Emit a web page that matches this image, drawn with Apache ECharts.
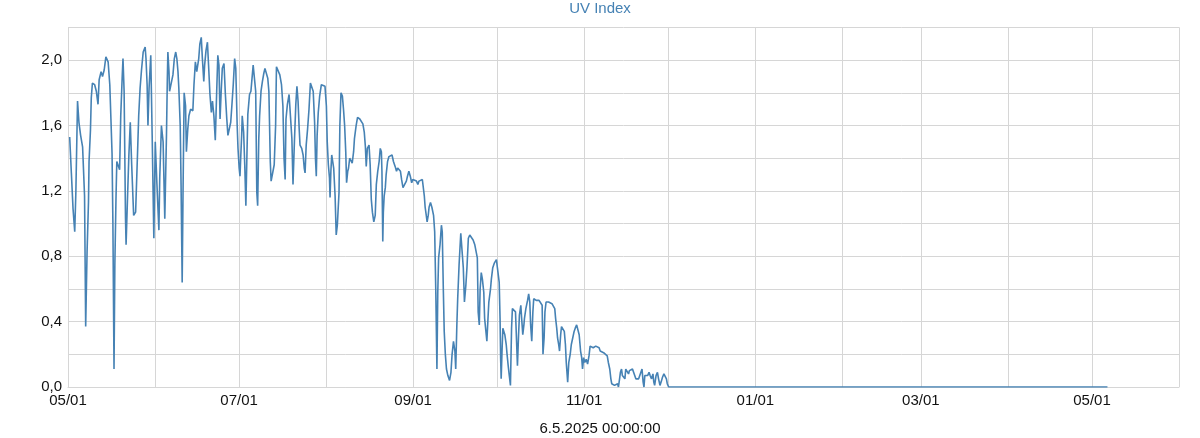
<!DOCTYPE html>
<html>
<head>
<meta charset="utf-8">
<script src="https://cdn.jsdelivr.net/npm/echarts@6/dist/echarts.min.js"></script>
<style>
html,body{margin:0;padding:0;background:#fff;}
#chart{width:1200px;height:438px;}
</style>
</head>
<body>
<div id="chart"></div>
<script>
// Chart title and axis caption
const chartTitle = 'UV Index';
const xCaption = '6.5.2025 00:00:00';
// Start of series (local date) and axis range
const startDate = [2024, 4, 1];
const axisEnd = [2025, 5, 1];
// Day offsets from startDate
const dayOffset = [
0.6,1.2,1.8,2.4,2.8,3.4,3.9,4.5,5.2,5.9,6.3,6.8,7.3,7.5,8.0,8.3,8.7,9.5,10.1,10.7,11.1,11.8,12.3,12.9,13.5,14.3,14.9,15.3,15.7,16.0,16.4,16.7,17.1,17.4,18.4,18.8,19.3,19.6,20.0,20.5,20.7,21.2,21.7,22.2,22.7,23.4,24.1,24.8,25.2,25.7,26.2,26.8,27.5,27.8,28.2,28.5,28.9,29.5,30.0,30.6,31.1,31.7,32.4,32.7,33.3,33.9,34.5,35.1,35.4,
35.6,36.0,36.2,36.8,37.4,37.9,38.4,38.8,39.2,39.5,40.0,40.3,40.7,41.0,41.4,41.9,42.2,42.7,43.1,43.7,44.5,44.9,45.4,45.9,46.6,47.0,47.5,47.9,48.4,48.7,49.2,49.7,50.1,50.6,51.1,51.5,52.0,52.5,53.0,53.4,53.8,54.2,54.6,55.0,55.6,56.1,56.6,57.0,57.5,58.0,58.4,58.9,59.4,59.8,60.3,60.6,61.0,61.3,61.6,61.9,62.1,62.6,63.0,63.4,63.8,64.1,64.7,65.2,65.6,66.0,66.6,66.9,67.3,67.6,68.0,68.3,68.8,69.3,69.8,70.2,70.7,71.2,71.6,
72.1,72.4,73.0,73.5,74.0,74.3,74.9,75.5,76.1,76.6,77.0,77.4,77.7,78.2,78.8,79.3,79.8,80.2,80.7,81.2,81.6,82.0,82.4,82.7,83.3,83.8,84.2,84.5,84.9,85.4,85.9,86.4,86.9,87.4,87.9,88.2,88.5,88.8,89.2,89.7,90.3,90.9,91.6,92.1,92.4,92.8,93.2,93.4,93.7,94.0,94.4,94.7,95.2,95.6,96.0,96.6,96.9,97.3,97.8,98.2,98.6,99.0,99.3,99.7,100.0,100.4,100.9,101.3,101.8,102.1,102.7,103.2,
104.0,104.6,105.1,105.6,106.0,106.3,106.7,107.3,107.7,108.1,108.5,109.0,109.5,109.9,110.4,110.9,111.3,111.7,111.9,112.2,112.4,112.7,113.1,113.4,113.9,114.4,114.9,115.5,116.0,116.6,117.1,117.5,118.0,118.5,118.9,119.4,120.0,120.6,121.0,121.5,122.0,122.5,122.9,123.6,124.2,124.7,125.1,125.7,126.3,126.7,127.0,127.3,127.7,128.0,128.4,128.7,129.2,129.7,130.3,130.7,131.1,131.5,131.8,132.1,132.6,133.1,133.4,133.8,134.1,134.5,134.9,135.4,136.0,136.5,136.9,137.4,137.9,138.2,138.6,138.9,139.4,
140.0,140.5,140.9,141.3,141.8,142.2,142.7,143.2,143.8,144.4,145.0,145.6,145.9,146.2,146.6,146.9,147.3,147.7,148.2,148.5,148.9,149.3,149.7,150.0,150.6,150.9,151.4,152.0,152.7,153.4,153.7,154.0,154.2,154.4,154.7,155.0,155.4,155.7,156.2,156.5,156.9,157.3,157.7,158.1,158.4,159.0,159.5,159.8,160.2,160.6,160.9,161.4,161.7,162.1,162.5,162.7,163.2,163.8,164.2,164.6,164.9,165.3,165.7,166.0,166.4,166.9,167.3,167.6,167.9,168.4,169.0,169.3,169.7,170.0,170.4,170.9,171.3,171.9,172.5,173.1,173.5,173.8,174.2,174.5,174.9,
175.2,175.6,175.9,176.4,176.9,177.3,177.6,178.1,178.5,179.0,179.4,179.9,180.4,180.8,181.3,181.8,182.2,182.7,183.1,183.4,183.8,184.2,184.7,185.2,185.7,186.1,186.7,187.2,187.6,188.1,188.7,189.3,189.7,190.3,190.9,191.5,192.2,192.6,193.1,193.5,193.8,194.3,194.8,195.4,195.9,196.2,196.6,196.9,197.3,197.6,198.0,198.5,198.8,199.3,199.8,200.1,200.7,201.2,201.6,202.0,202.4,202.9,203.4,203.7,204.2,204.6,205.0,205.3,205.6,206.1,206.6,207.1,207.5,208.0,208.5,208.8,209.1,209.6,210.1,210.5,211.0,211.4,211.9,212.4,212.8,213.3,213.6,214.1,
370.5
];
// UV index values
const uv = [
1.53,1.31,1.09,0.95,1.19,1.75,1.62,1.54,1.47,1.17,0.37,0.83,1.13,1.38,1.57,1.77,1.86,1.85,1.81,1.73,1.88,1.93,1.90,1.94,2.02,1.99,1.85,1.64,1.43,1.01,0.11,0.75,1.15,1.38,1.33,1.66,1.89,2.01,1.81,1.03,0.87,1.15,1.42,1.62,1.36,1.05,1.07,1.44,1.66,1.83,1.94,2.05,2.08,2.01,1.85,1.60,1.83,2.03,1.54,0.91,1.50,1.24,0.96,1.28,1.60,1.50,1.03,1.54,1.88,
2.05,1.93,1.81,1.86,1.91,2.01,2.05,2.01,1.93,1.83,1.60,1.24,0.64,1.19,1.80,1.72,1.44,1.58,1.66,1.70,1.69,1.85,1.99,1.93,2.01,2.10,2.14,2.01,1.87,1.97,2.06,2.11,1.97,1.79,1.68,1.75,1.66,1.51,1.81,2.03,1.97,1.64,1.81,1.95,1.98,1.79,1.64,1.54,1.53,1.62,1.72,1.85,2.01,1.95,1.60,1.46,1.34,1.29,1.42,1.54,1.66,1.56,1.36,1.11,1.44,1.67,1.79,1.81,1.89,1.97,1.97,1.81,1.19,1.11,1.52,1.66,1.81,1.87,1.92,1.95,1.96,1.89,1.81,
1.38,1.26,1.25,1.36,1.60,1.96,1.96,1.91,1.85,1.72,1.40,1.27,1.64,1.73,1.79,1.80,1.52,1.24,1.50,1.73,1.84,1.75,1.58,1.48,1.46,1.42,1.34,1.31,1.48,1.58,1.70,1.86,1.85,1.81,1.62,1.40,1.29,1.54,1.68,1.78,1.85,1.84,1.84,1.72,1.50,1.36,1.28,1.16,1.32,1.42,1.43,1.34,1.17,0.93,0.99,1.19,1.60,1.80,1.78,1.70,1.60,1.44,1.25,1.32,1.34,1.40,1.39,1.37,1.44,1.52,1.60,1.65,
1.64,1.63,1.61,1.56,1.47,1.35,1.46,1.48,1.36,1.15,1.07,1.01,1.05,1.24,1.32,1.38,1.46,1.44,1.32,0.89,1.07,1.17,1.22,1.30,1.38,1.41,1.42,1.42,1.38,1.35,1.32,1.34,1.35,1.32,1.27,1.22,1.24,1.26,1.29,1.32,1.29,1.25,1.27,1.27,1.26,1.24,1.26,1.27,1.27,1.26,1.17,1.10,1.05,1.01,1.05,1.10,1.13,1.10,1.05,0.95,0.58,0.11,0.58,0.79,0.87,0.99,0.95,0.58,0.34,0.20,0.11,0.07,0.04,0.09,0.20,0.28,0.22,0.11,0.38,0.54,0.75,
0.94,0.94,0.73,0.52,0.62,0.73,0.91,0.93,0.92,0.90,0.87,0.87,0.79,0.46,0.38,0.60,0.70,0.66,0.58,0.42,0.42,0.28,0.42,0.52,0.60,0.66,0.73,0.76,0.78,0.77,0.64,0.42,0.18,0.05,0.22,0.36,0.36,0.32,0.26,0.20,0.13,0.07,0.01,0.36,0.48,0.48,0.46,0.32,0.13,0.32,0.44,0.50,0.42,0.32,0.38,0.42,0.48,0.53,0.57,0.52,0.38,0.28,0.46,0.54,0.55,0.53,0.52,0.54,0.53,0.52,0.50,0.20,0.30,0.46,0.52,0.52,0.52,0.51,0.51,0.51,0.48,0.42,0.36,0.30,0.26,
0.22,0.32,0.37,0.37,0.34,0.26,0.15,0.03,0.15,0.20,0.26,0.30,0.34,0.36,0.38,0.37,0.32,0.22,0.18,0.11,0.18,0.15,0.17,0.14,0.19,0.25,0.26,0.24,0.25,0.25,0.25,0.24,0.22,0.22,0.21,0.20,0.19,0.15,0.11,0.05,0.02,0.01,0.01,0.01,0.02,0.00,0.05,0.09,0.11,0.07,0.08,0.05,0.11,0.10,0.08,0.10,0.09,0.11,0.09,0.07,0.05,0.04,0.05,0.04,0.09,0.11,0.03,0.00,0.07,0.08,0.07,0.09,0.07,0.05,0.08,0.03,0.01,0.07,0.09,0.05,0.01,0.03,0.06,0.08,0.09,0.05,0.02,0.00,
0.00
];
// Y axis settings
const yMin = 0, yMax = 2.2, yStep = 0.2;

const DAY = 86400000;
const t0 = new Date(startDate[0], startDate[1], startDate[2]).getTime();
const tEnd = new Date(axisEnd[0], axisEnd[1], axisEnd[2]).getTime();
const seriesData = dayOffset.map((d, i) => [t0 + d * DAY, uv[i]]);

const chart = echarts.init(document.getElementById('chart'), null, {renderer: 'canvas'});
const FONT = 'Liberation Sans, Arial, Helvetica, sans-serif';
const pad = n => (n < 10 ? '0' : '') + n;
chart.setOption({
  animation: false,
  backgroundColor: '#ffffff',
  title: [
    {text: chartTitle, left: 'center', top: 1, padding: 0,
     textStyle: {color: '#4682b4', fontSize: 15, fontWeight: 'normal', fontFamily: FONT}},
    {text: xCaption, left: 'center', top: 421, padding: 0,
     textStyle: {color: '#111', fontSize: 15, fontWeight: 'normal', fontFamily: FONT}}
  ],
  grid: {left: 68, right: 21, top: 27.5, bottom: 51, containLabel: false},
  xAxis: {
    type: 'time',
    min: t0, max: tEnd,
    splitNumber: 13,
    minInterval: 28 * DAY,
    maxInterval: 31 * DAY,
    axisLine: {show: true, lineStyle: {color: '#d6d6d6', width: 1}},
    axisTick: {show: false},
    splitLine: {show: true, lineStyle: {color: '#d6d6d6', width: 1}},
    axisLabel: {
      color: '#111', fontSize: 15, fontFamily: FONT, margin: 6,
      showMinLabel: true, showMaxLabel: true, hideOverlap: false,
      formatter: function (val) {
        const d = new Date(val);
        if (d.getDate() !== 1 || d.getMonth() % 2 !== 0) return '';
        return pad(d.getMonth() + 1) + '/' + pad(d.getDate());
      }
    }
  },
  yAxis: {
    type: 'value', min: yMin, max: yMax, interval: yStep,
    axisLine: {show: false}, axisTick: {show: false},
    splitLine: {show: true, lineStyle: {color: '#d6d6d6', width: 1}},
    axisLabel: {
      color: '#111', fontSize: 15, fontFamily: FONT, margin: 6,
      formatter: function (v) {
        const k = Math.round(v * 10);
        if (k % 4 !== 0) return '';
        return (k / 10).toFixed(1).replace('.', ',');
      }
    }
  },
  series: [{
    type: 'line', data: seriesData, showSymbol: false, symbol: 'none',
    lineStyle: {color: '#4682b4', width: 1.6}, itemStyle: {color: '#4682b4'}
  }]
});
</script>
</body>
</html>
